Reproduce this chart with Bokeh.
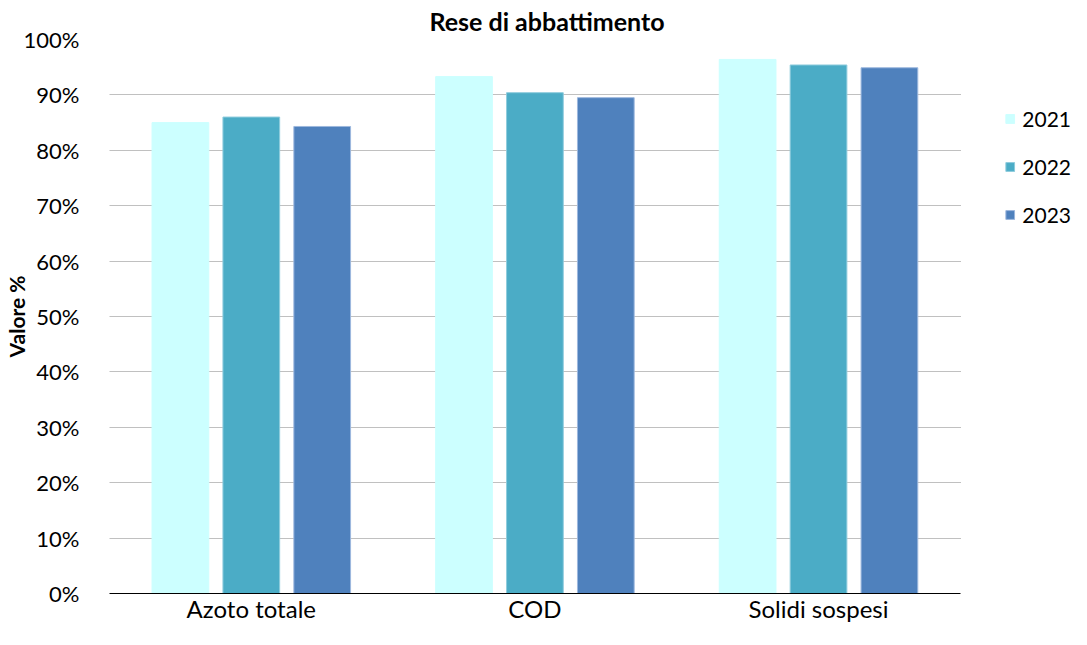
from bokeh.plotting import figure
from bokeh.models import ColumnDataSource, NumeralTickFormatter, Legend, LegendItem, FixedTicker, Grid
from bokeh.transform import dodge
from bokeh.embed import file_html
from bokeh.resources import INLINE

categories = ["Azoto totale", "COD", "Solidi sospesi"]
years = ["2021", "2022", "2023"]
v2021 = [0.850, 0.933, 0.964]
v2022 = [0.860, 0.904, 0.954]
v2023 = [0.843, 0.895, 0.949]
colors = ["#CCFFFF", "#4BACC6", "#4F81BD"]
edges = ["#CCFFFF", "#8FCCDD", "#9DB8DE"]
y_ticks = [0.0, 0.1, 0.2, 0.3, 0.4, 0.5, 0.6, 0.7, 0.8, 0.9, 1.0]

FONT = "Lato"

xi = list(range(len(categories)))
src = ColumnDataSource(dict(xi=xi, y2021=v2021, y2022=v2022, y2023=v2023))

p = figure(x_range=(-0.5, 2.892), y_range=(0, 1),
           width=1071, height=629, output_backend="svg", toolbar_location=None,
           min_border_left=102, min_border_right=0, min_border_top=38, min_border_bottom=36)

p.title.text = "Rese di abbattimento"
p.title.align = "left"
p.title.offset = 320
p.title.text_font = FONT
p.title.text_font_size = "25px"
p.title.text_font_style = "bold"
p.title.text_color = "black"
p.title.standoff = 7

renderers = []
for i, (yr, col, ec) in enumerate(zip(years, colors, edges)):
    r = p.vbar(x=dodge("xi", (i - 1) * 0.25), top="y" + yr, width=0.2,
               source=src, fill_color=col, line_color=ec, line_width=1)
    renderers.append(r)

p.yaxis.ticker = FixedTicker(ticks=y_ticks)
p.yaxis.formatter = NumeralTickFormatter(format="0%")
p.yaxis.axis_line_color = None
p.yaxis.major_tick_line_color = None
p.yaxis.minor_tick_line_color = None
p.yaxis.major_tick_in = 0
p.yaxis.major_tick_out = 0
p.yaxis.minor_tick_in = 0
p.yaxis.minor_tick_out = 0
p.yaxis.major_label_text_font = FONT
p.yaxis.major_label_text_font_size = "22px"
p.yaxis.major_label_text_color = "black"
p.yaxis.major_label_standoff = 30
p.yaxis.axis_label = "Valore %"
p.yaxis.axis_label_text_font = FONT
p.yaxis.axis_label_text_font_size = "21px"
p.yaxis.axis_label_text_font_style = "bold"
p.yaxis.axis_label_text_color = "black"
p.yaxis.axis_label_standoff = -8

p.xaxis.ticker = FixedTicker(ticks=xi)
p.xaxis.major_label_overrides = {i: c for i, c in zip(xi, categories)}
p.xaxis.bounds = (-0.5, len(categories) - 0.5)
p.xaxis.axis_line_color = "black"
p.xaxis.axis_line_width = 1
p.xaxis.major_tick_line_color = None
p.xaxis.minor_tick_line_color = None
p.xaxis.major_tick_in = 0
p.xaxis.major_tick_out = 0
p.xaxis.minor_tick_in = 0
p.xaxis.minor_tick_out = 0
p.xaxis.major_label_text_font = FONT
p.xaxis.major_label_text_font_size = "24px"
p.xaxis.major_label_text_color = "black"
p.xaxis.major_label_standoff = 0

p.xgrid.grid_line_color = None
p.ygrid.grid_line_color = "#808080"
p.ygrid.grid_line_dash = "1 1"
p.ygrid.grid_line_width = 1
if "cross_bounds" in Grid.properties():
    p.ygrid.cross_bounds = (-0.5, len(categories) - 0.5)
p.outline_line_color = None

legend = Legend(items=[LegendItem(label=yr, renderers=[r]) for yr, r in zip(years, renderers)],
                location="top_right", orientation="vertical",
                title=" ", title_text_font_size="1px", title_standoff=64,
                glyph_width=11, glyph_height=11, label_height=28, spacing=20,
                label_standoff=7, padding=0, margin=0,
                label_text_font=FONT, label_text_font_size="21px", label_text_color="black",
                border_line_color=None, background_fill_alpha=0)
p.add_layout(legend)

open("out.html", "w").write(file_html(p, INLINE))
